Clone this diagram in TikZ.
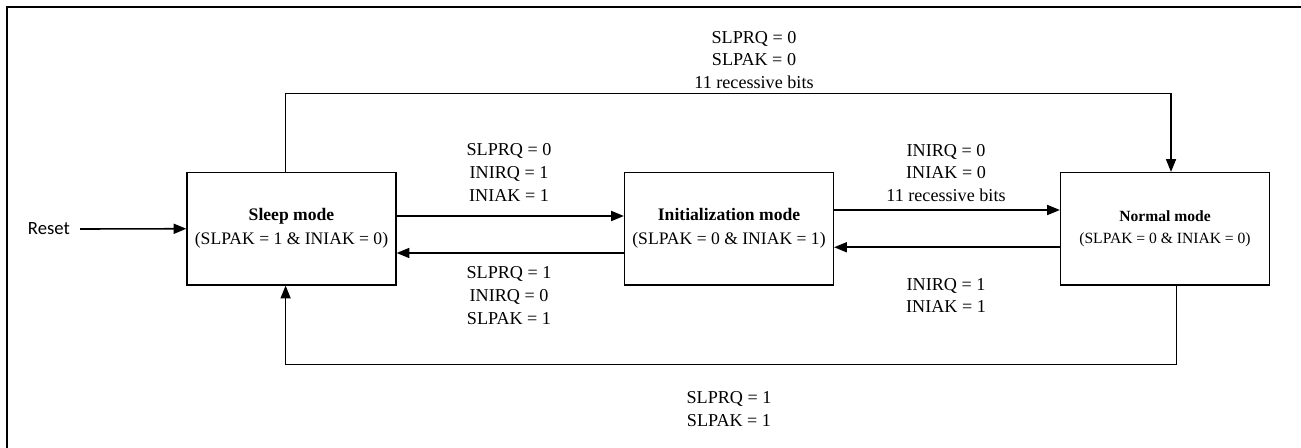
\documentclass[tikz,border=0pt]{standalone}
\usepackage{fontspec}
\setmainfont{Liberation Serif}
\newfontfamily\resetfont{Carlito}
\usetikzlibrary{arrows.meta}
\begin{document}
\begin{tikzpicture}[x=.75pt,y=-.75pt,font=\fontsize{13.6}{17.2}\selectfont,line join=miter,>={Triangle[length=9.5pt,width=7.5pt]},
	mode/.style={draw,line width=.9pt,minimum width=156.8pt,minimum height=84.4pt,align=center,inner sep=0pt,font=\fontsize{13.2}{18}\selectfont},
	cond/.style={align=center,inner sep=0pt},
	trans/.style={->,line width=1.2pt},
	loop/.style={->,line width=.9pt}]
\useasboundingbox (0,0) rectangle (1301,448);
\draw[line width=.8pt] (7,460)--(7,7)--(1310,7);
% modes
\node[mode] (sleep) at (291.5,228.75) {\textbf{Sleep mode}\\(SLPAK = 1 \& INIAK = 0)};
\node[mode] (init) at (729,228.75) {\textbf{Initialization mode}\\(SLPAK = 0 \& INIAK = 1)};
\node[mode,font=\fontsize{11.7}{15.8}\selectfont] (normal) at (1165,228.75) {\textbf{Normal mode}\\(SLPAK = 0 \& INIAK = 0)};
\node[inner sep=0pt,font=\resetfont\fontsize{14}{16}\selectfont] (reset) at (48.9,229) {Reset};
% conditions
\node[cond] (lbltop) at (754,60) {SLPRQ = 0\\SLPAK = 0\\11 recessive bits};
\node[cond] (lblsi) at (509,172.5) {SLPRQ = 0\\INIRQ = 1\\INIAK = 1};
\node[cond] (lblin) at (946,173) {INIRQ = 0\\INIAK = 0\\11 recessive bits};
\node[cond] (lblis) at (509,295.5) {SLPRQ = 1\\INIRQ = 0\\SLPAK = 1};
\node[cond] (lblni) at (946,295.5) {INIRQ = 1\\INIAK = 1};
\node[cond] (lblbot) at (729,409) {SLPRQ = 1\\SLPAK = 1};
% transitions
\draw[trans] ([shift={(10,0)}]reset.east) -- (sleep.west);
\draw[trans] ([shift={(0,-12.75)}]sleep.east) -- ([shift={(0,-12.75)}]init.west);
\draw[trans] ([shift={(0,24.25)}]init.west) -- ([shift={(0,24.25)}]sleep.east);
\draw[trans] ([shift={(0,-18.75)}]init.east) -- ([shift={(0,-18.75)}]normal.west);
\draw[trans] ([shift={(0,18.5)}]normal.west) -- ([shift={(0,18.5)}]init.east);
\draw[loop] ([shift={(-5.9,0)}]sleep.north) -- ++(0,-78.2) -| ([shift={(6,0)}]normal.north);
\draw[loop] ([shift={(11.5,0)}]normal.south) -- ++(0,79) -| ([shift={(-5.9,0)}]sleep.south);
\end{tikzpicture}
\end{document}
